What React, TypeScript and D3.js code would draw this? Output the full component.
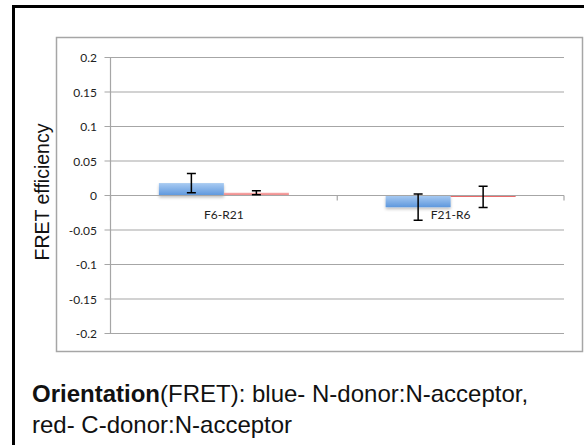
import React from "react";
import * as d3 from "d3";

const categories = ["F6-R21", "F21-R6"];
const blueValues = [0.018, -0.017];
const blueErrors = [0.014, 0.019];
const redValues = [0.004, -0.002];
const redErrors = [0.003, 0.0155];
const yTicks = [0.2, 0.15, 0.1, 0.05, 0, -0.05, -0.1, -0.15, -0.2];
const yTickLabels = ["0.2", "0.15", "0.1", "0.05", "0", "-0.05", "-0.1", "-0.15", "-0.2"];

export default function App() {
  const W = 584, H = 445;
  const plotLeft = 110.5, plotRight = 564;
  const y = d3.scaleLinear().domain([-0.2, 0.2]).range([333.5, 57.5]);
  const x0 = d3.scaleBand().domain(categories).range([plotLeft, plotRight]).paddingInner(0).paddingOuter(0);
  const groupW = 130;
  const x1 = d3.scaleBand().domain(["blue", "red"]).range([0, groupW]);
  const bw = x1.bandwidth();
  const tickFont = "Lato, 'Open Sans', sans-serif";
  const gridColor = "#a6a6a6";
  const errPath = (cx: number, v: number, e: number) => {
    const t = y(v + e), b = y(v - e);
    return `M${cx - 4.5},${t}H${cx + 4.5}M${cx},${t}V${b}M${cx - 4.5},${b}H${cx + 4.5}`;
  };
  const bar = (cx0: number, v: number) => {
    const yTop = Math.min(y(v), y(0));
    const h = Math.max(Math.abs(y(v) - y(0)), 1.5);
    return { x: cx0, y: yTop, h };
  };
  return (
    <svg width={W} height={H} style={{ position: "absolute", left: 0, top: 0, background: "#fff" }}>
      <defs>
        <linearGradient id="blueG" x1="0" y1="0" x2="0" y2="1">
          <stop offset="0" stopColor="#a9cbf2" />
          <stop offset="1" stopColor="#5d97dd" />
        </linearGradient>
        <linearGradient id="redG" x1="0" y1="0" x2="0" y2="1">
          <stop offset="0" stopColor="#f6aaaa" />
          <stop offset="1" stopColor="#ee8585" />
        </linearGradient>
        <filter id="sh" x="-10%" y="-30%" width="120%" height="200%">
          <feGaussianBlur in="SourceAlpha" stdDeviation="1.5" />
          <feOffset dx="0" dy="2" result="ob" />
          <feComponentTransfer><feFuncA type="linear" slope="0.25" /></feComponentTransfer>
          <feMerge><feMergeNode /><feMergeNode in="SourceGraphic" /></feMerge>
        </filter>
      </defs>
      {/* outer black frame */}
      <line x1={13.5} y1={6.5} x2={W} y2={6.5} stroke="#000" strokeWidth={3} />
      <line x1={13.5} y1={5} x2={13.5} y2={H} stroke="#000" strokeWidth={3} />
      {/* inner chart box */}
      <rect x={56.5} y={37.5} width={526} height={314} fill="#fff" stroke="#a6a6a6" strokeWidth={1.5} />
      {/* gridlines */}
      {yTicks.map((t, i) => (
        <g key={i}>
          <line x1={plotLeft - 6} x2={plotRight} y1={y(t)} y2={y(t)} stroke={gridColor} strokeWidth={1.2} />
          <text x={97} y={y(t) + 4.5} textAnchor="end" fontFamily={tickFont} fontSize={12} fill="#222">{yTickLabels[i]}</text>
        </g>
      ))}
      {/* y axis */}
      <line x1={plotLeft} x2={plotLeft} y1={y(0.2)} y2={y(-0.2)} stroke={gridColor} strokeWidth={1.2} />
      {/* x ticks on zero line */}
      {[plotLeft, ...categories.map(c => (x0(c) as number) + x0.bandwidth())].map((tx, i) => (
        <line key={i} x1={tx} x2={tx} y1={y(0)} y2={y(0) + 5} stroke={gridColor} strokeWidth={1.2} />
      ))}
      {/* bars */}
      {categories.map((c, i) => {
        const gx = (x0(c) as number) + (x0.bandwidth() - groupW) / 2;
        const bb = bar(gx + (x1("blue") as number), blueValues[i]);
        const rb = bar(gx + (x1("red") as number), redValues[i]);
        return (
          <g key={c}>
            <rect x={bb.x} y={bb.y} width={bw} height={bb.h} fill="url(#blueG)" filter="url(#sh)" />
            <rect x={rb.x} y={rb.y} width={bw} height={rb.h} fill={redValues[i] < 0 ? "#e96a6a" : "url(#redG)"} />
          </g>
        );
      })}
      {/* zero line over bars */}
      <line x1={plotLeft} x2={plotRight} y1={y(0)} y2={y(0)} stroke={gridColor} strokeWidth={1.2} />
      {/* error bars */}
      {categories.map((c, i) => {
        const gx = (x0(c) as number) + (x0.bandwidth() - groupW) / 2;
        const bcx = gx + (x1("blue") as number) + bw / 2;
        const rcx = gx + (x1("red") as number) + bw / 2;
        return (
          <g key={c + "e"} stroke="#000" strokeWidth={1.5} fill="none">
            <path d={errPath(bcx, blueValues[i], blueErrors[i])} />
            <path d={errPath(rcx, redValues[i], redErrors[i])} />
          </g>
        );
      })}
      {/* category labels */}
      {categories.map(c => (
        <text key={c + "l"} x={(x0(c) as number) + x0.bandwidth() / 2} y={219} textAnchor="middle" fontFamily={tickFont} fontSize={12} fill="#222">{c}</text>
      ))}
      {/* y title */}
      <text transform={`translate(49,192) rotate(-90)`} textAnchor="middle" fontFamily="'Liberation Sans', Arial, sans-serif" fontSize={19.5} fill="#111">FRET efficiency</text>
      {/* caption */}
      <text x={32} y={402} fontFamily="'Liberation Sans', Arial, sans-serif" fontSize={24} fill="#111">
        <tspan fontWeight="bold">Orientation</tspan>
        <tspan>(FRET): blue- N-donor:N-acceptor,</tspan>
      </text>
      <text x={32} y={433} fontFamily="'Liberation Sans', Arial, sans-serif" fontSize={24} fill="#111">red- C-donor:N-acceptor</text>
    </svg>
  );
}
